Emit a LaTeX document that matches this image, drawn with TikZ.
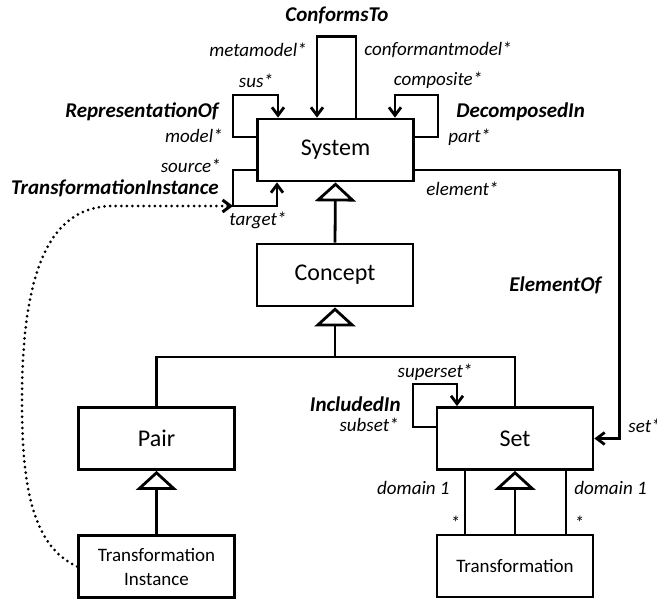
\documentclass[tikz,border=0pt]{standalone}
\usepackage{fontspec}
\setmainfont{Carlito}
\usetikzlibrary{arrows.meta}

\begin{document}
\begin{tikzpicture}[x=1pt,y=-1pt,line width=2.8pt,
    box/.style={draw,rectangle,minimum width=156pt,minimum height=62pt,
      inner sep=0pt,font=\fontsize{24}{28}\selectfont},
    smallbox/.style={box,align=center,font=\fontsize{19}{24}\selectfont},
    role/.style={inner sep=0pt,font=\fontsize{19}{22}\selectfont\itshape},
    rel/.style={inner sep=0pt,font=\fontsize{21}{25}\selectfont\bfseries\itshape},
    assoc/.style={-{Straight Barb[length=8pt,width=12pt]}},
    inherit/.style={-{Triangle[open,length=19pt,width=41pt]}}]
    \useasboundingbox (0,0) rectangle (657,602);

    \node[box] (sys) at (335.5,150) {System};
    \node[box] (concept) at (335,275) {Concept};
    \node[box] (pair) at (156.5,438.5) {Pair};
    \node[box] (set) at (515,438.5) {Set};
    \node[smallbox] (tinst) at (156.5,566.5) {Transformation\\Instance};
    \node[smallbox] (trans) at (515,566) {Transformation};
    \coordinate (bar) at (335,357);
    \coordinate (tcorner) at (233,206);

    \draw[inherit] (concept.north) -- (sys.south);
    \draw (pair.north) |- (bar) -| (set.north);
    \draw[inherit] (bar) -- (concept.south);
    \draw[inherit] (tinst.north) -- (pair.south);
    \draw[inherit] (trans.north) -- (set.south);
    \draw ([xshift=-50pt]trans.north) -- ([xshift=-50pt]set.south);
    \draw ([xshift=51pt]trans.north) -- ([xshift=51pt]set.south);

    \draw[assoc] ([xshift=20.5pt]sys.north) -- ++(0,-81) -| ([xshift=-18.5pt]sys.north);
    \draw[assoc] ([yshift=13pt]sys.west) -| (233,95) -| ([xshift=-57.5pt]sys.north);
    \draw[assoc] ([yshift=13pt]sys.east) -| (438,95) -| ([xshift=59.5pt]sys.north);
    \draw[assoc] ([yshift=-20pt]sys.west) -| (tcorner) -| ([xshift=-58.5pt]sys.south);
    \draw[assoc] ([yshift=-20pt]sys.east) -| ([xshift=25pt]set.east) -- (set.east);
    \draw[assoc] ([yshift=11.5pt]set.west) -| (413,384) -| ([xshift=-58pt]set.north);
    \draw[assoc,line width=3pt,line cap=round,dash pattern=on 0pt off 5.6pt]
      (tinst.west) .. controls (30,545) and (22,480) .. (22,400)
      .. controls (22,270) and (50,206) .. (113,206) -- (tcorner);

    \node[rel] (conf) at (337,15) {ConformsTo};
    \node[role,anchor=east] (meta) at (308,50) {metamodel*};
    \node[role,anchor=west] (confm) at (363,50) {conformantmodel*};
    \node[role] (sus) at (256,81) {sus*};
    \node[rel,anchor=east] (repr) at (220,112) {RepresentationOf};
    \node[role,anchor=east] (model) at (224,136) {model*};
    \node[role] (comp) at (438,80) {composite*};
    \node[rel,anchor=west] (decomp) at (455,112) {DecomposedIn};
    \node[role,anchor=west] (part) at (447,137) {part*};
    \node[role,anchor=east] (source) at (222,166) {source*};
    \node[rel,anchor=east] (tirel) at (220,188) {TransformationInstance};
    \node[role,anchor=west] (target) at (228,220) {target*};
    \node[role,anchor=west] (elem) at (425,189) {element*};
    \node[rel,anchor=west] (elemof) at (508,285) {ElementOf};
    \node[role,anchor=west] (setr) at (627,426) {set*};
    \node[role] (super) at (435,372) {superset*};
    \node[rel,anchor=east] (incl) at (402,404) {IncludedIn};
    \node[role,anchor=east] (sub) at (400,425) {subset*};
    \node[role,anchor=east] (doml) at (451,488) {domain 1};
    \node[role,anchor=west] (domr) at (573,488) {domain 1};
    \node[role] (mull) at (455,523) {*};
    \node[role] (mulr) at (579,523) {*};
\end{tikzpicture}
\end{document}
